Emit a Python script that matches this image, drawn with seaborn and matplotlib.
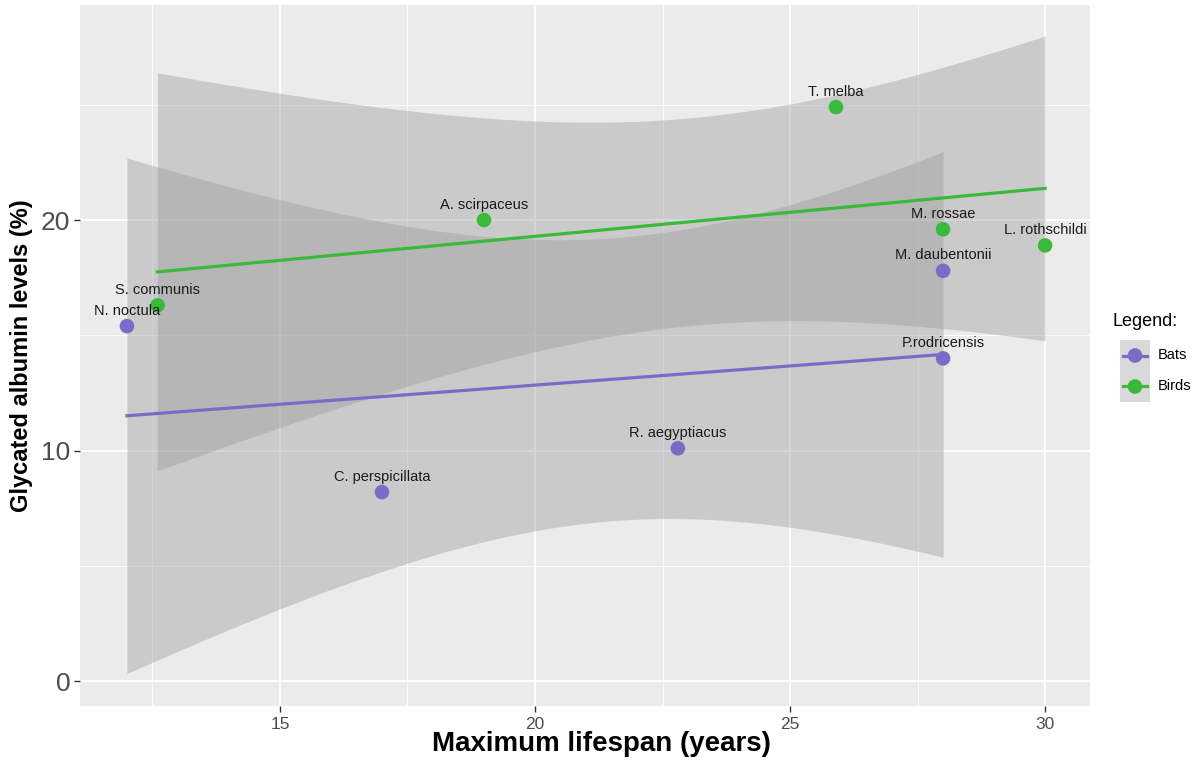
import numpy as np
import pandas as pd
import matplotlib
matplotlib.use("Agg")
import matplotlib.pyplot as plt
import seaborn as sns
from matplotlib.ticker import MultipleLocator

# data
bat_species = ["N. noctula", "C. perspicillata", "R. aegyptiacus", "M. daubentonii", "P.rodricensis"]
bat_lifespan = [12.0, 17.0, 22.8, 28.0, 28.0]
bat_albumin = [15.4, 8.2, 10.1, 17.8, 14.0]

bird_species = ["S. communis", "A. scirpaceus", "T. melba", "M. rossae", "L. rothschildi"]
bird_lifespan = [12.6, 19.0, 25.9, 28.0, 30.0]
bird_albumin = [16.3, 20.0, 24.9, 19.6, 18.9]

groups = ["Bats", "Birds"]
colors = {"Bats": "#7B6BC8", "Birds": "#3BB93B"}

df = pd.DataFrame({
    "species": bat_species + bird_species,
    "lifespan": bat_lifespan + bird_lifespan,
    "albumin": bat_albumin + bird_albumin,
    "group": ["Bats"] * len(bat_species) + ["Birds"] * len(bird_species),
})


def lm_band(x, y, n=100):
    """Linear fit with analytic 95% CI, like geom_smooth(method='lm')."""
    x = np.asarray(x, float)
    y = np.asarray(y, float)
    slope, icpt = np.polyfit(x, y, 1)
    resid = y - (icpt + slope * x)
    dof = len(x) - 2
    s = np.sqrt(np.sum(resid ** 2) / dof)
    # t quantile (0.975) for small dof
    tq = {3: 3.182, 4: 2.776}[dof]
    xs = np.linspace(x.min(), x.max(), n)
    fit = icpt + slope * xs
    se = s * np.sqrt(1 / len(x) + (xs - x.mean()) ** 2 / np.sum((x - x.mean()) ** 2))
    return pd.DataFrame({"x": xs, "fit": fit, "lo": fit - tq * se, "hi": fit + tq * se})


plt.rcParams["font.family"] = ["Liberation Sans", "DejaVu Sans"]
fig = plt.figure(figsize=(12.03, 7.66), dpi=100)
ax = fig.add_axes([80 / 1203, 60 / 766, 1010 / 1203, 701 / 766])
ax.set_facecolor("#EBEBEB")

for g in groups:
    sub = df[df["group"] == g]
    band = lm_band(sub["lifespan"], sub["albumin"])
    ax.fill_between(band["x"], band["lo"], band["hi"], color="#999999", alpha=0.4,
                    linewidth=0, zorder=2)
    sns.lineplot(data=band, x="x", y="fit", color=colors[g], linewidth=2.3, ax=ax,
                 zorder=3, legend=False)

sns.scatterplot(data=df, x="lifespan", y="albumin", hue="group", palette=colors,
                s=110, edgecolor="none", ax=ax, zorder=4, legend=False)

for _, r in df.iterrows():
    ax.annotate(r["species"], (r["lifespan"], r["albumin"]), xytext=(0, 6),
                textcoords="offset points", ha="center", va="bottom",
                fontsize=10.5, color="#1a1a1a", zorder=5)

ax.set_xlim(11.08, 30.88)
ax.set_ylim(-1.08, 29.33)
ax.xaxis.set_major_locator(MultipleLocator(5))
ax.yaxis.set_major_locator(MultipleLocator(10))
ax.xaxis.set_minor_locator(MultipleLocator(2.5))
ax.yaxis.set_minor_locator(MultipleLocator(5))
ax.grid(which="major", color="white", linewidth=1.3, zorder=0)
ax.grid(which="minor", color="white", linewidth=0.6, zorder=0)
ax.set_axisbelow(True)
for sp in ax.spines.values():
    sp.set_visible(False)
ax.tick_params(axis="both", which="major", color="#333333", length=4, width=1)
ax.tick_params(axis="both", which="minor", length=0)
ax.tick_params(axis="x", labelsize=12.5, labelcolor="#4D4D4D", pad=4)
ax.tick_params(axis="y", labelsize=19, labelcolor="#4D4D4D", pad=3)

ax.set_xlabel("Maximum lifespan (years)", fontsize=20, fontweight="bold", va="center")
ax.xaxis.set_label_coords((601 - 80) / 1010, -(744 - 706) / 701)
ax.set_ylabel("Glycated albumin levels (%)", fontsize=17, fontweight="bold", labelpad=6)

# legend drawn as a small key panel like ggplot
fig.text(1113 / 1203, 1 - 322 / 766, "Legend:", fontsize=13, va="center", ha="left")
key_ax = fig.add_axes([1120 / 1203, 1 - 402 / 766, 30 / 1203, 62 / 766])
key_ax.set_facecolor("#D9D9D9")
key_ax.set_xlim(0, 1)
key_ax.set_ylim(0, 2)
for i, g in enumerate(groups):
    yk = 1.5 - i
    key_ax.plot([0.1, 0.9], [yk, yk], color=colors[g], linewidth=2.3)
    key_ax.scatter([0.5], [yk], s=110, color=colors[g], edgecolor="none", zorder=3)
    fig.text(1158 / 1203, 1 - (355 + 31 * i) / 766, g, fontsize=10.5, va="center", ha="left")
key_ax.set_xticks([])
key_ax.set_yticks([])
for sp in key_ax.spines.values():
    sp.set_visible(False)

fig.savefig("out.png", dpi=100)
